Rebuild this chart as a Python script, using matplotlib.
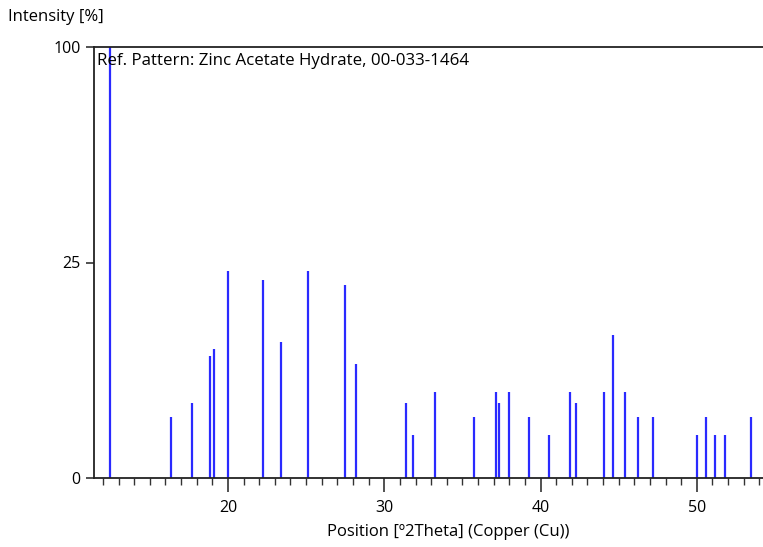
import numpy as np
import matplotlib
matplotlib.use("Agg")
from matplotlib import pyplot as plt
from matplotlib.ticker import MultipleLocator, FixedLocator

plt.rcParams['font.family'] = ['Open Sans', 'DejaVu Sans']

# peak positions [deg 2theta] and relative intensities [%]
positions = [12.48, 16.38, 17.70, 18.83, 19.12, 19.98, 22.24, 23.39, 25.09,
             27.46, 28.20, 31.36, 31.82, 33.27, 35.72, 37.15, 37.34, 38.00,
             39.24, 40.56, 41.88, 42.26, 44.05, 44.62, 45.39, 46.24, 47.20,
             50.03, 50.61, 51.16, 51.82, 53.44]
intensities = [100, 2, 3, 8, 9, 23, 21, 10, 23,
               20, 7, 3, 1, 4, 2, 4, 3, 4,
               2, 1, 4, 3, 4, 11, 4, 2, 2,
               1, 2, 1, 1, 2]
x_ticks = [20, 30, 40, 50]
y_ticks = [0, 25, 100]

fig = plt.figure(figsize=(7.63, 5.47), dpi=100)
ax = fig.add_axes([94/763, 1-478/547, (763-94)/763 + 0.01, (478-47)/547])

ax.vlines(positions, 0, intensities, color='#2a2aff', linewidth=1.6)

ax.set_yscale('function', functions=(lambda v: np.sqrt(np.clip(v, 0, None)), lambda v: v**2))
ax.set_ylim(0, 100)
ax.set_xlim(11.43, 54.72)

ax.xaxis.set_major_locator(FixedLocator(x_ticks))
ax.xaxis.set_minor_locator(MultipleLocator(1))
ax.yaxis.set_major_locator(FixedLocator(y_ticks))
ax.yaxis.set_minor_locator(FixedLocator([]))
ax.tick_params(axis='x', which='major', length=10, width=1.2, labelsize=11.5, pad=6, color='#333333')
ax.tick_params(axis='x', which='minor', length=5, width=1, color='#333333')
ax.tick_params(axis='y', which='major', length=6, width=1.2, labelsize=11.5, color='#333333')

for s in ['left', 'bottom', 'top']:
    ax.spines[s].set_linewidth(1.3)
    ax.spines[s].set_color('#222222')
ax.spines['right'].set_visible(False)

ax.text(0.004, 0.985, 'Ref. Pattern: Zinc Acetate Hydrate, 00-033-1464',
        transform=ax.transAxes, ha='left', va='top', fontsize=12.2)
fig.text(8/763, 1-17/547, 'Intensity [%]', ha='left', va='center', fontsize=12)
fig.text(448/763, 1-532/547, 'Position [\u00ba2Theta] (Copper (Cu))', ha='center',
         va='center', fontsize=12)

fig.savefig('out.png', dpi=100)
